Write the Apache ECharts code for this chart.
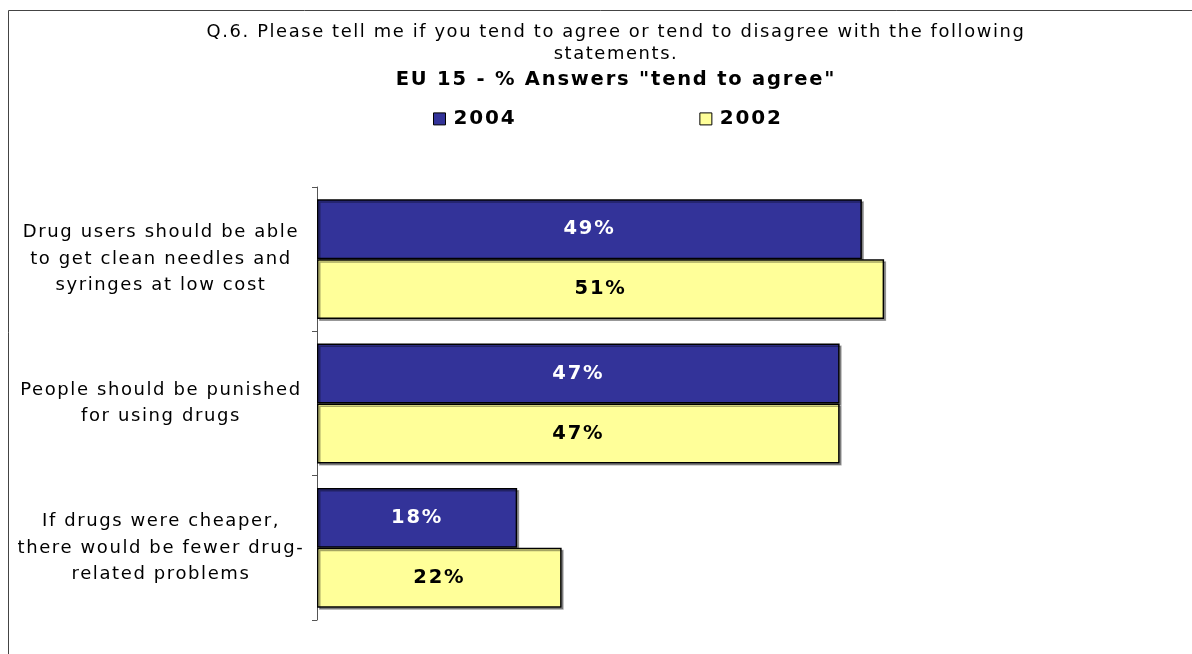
<!DOCTYPE html>
<html><head><meta charset="utf-8">
<script src="https://cdn.jsdelivr.net/npm/echarts@6/dist/echarts.min.js"></script>
<style>html,body{margin:0;padding:0;background:#fff}#c{width:1192px;height:654px}</style>
</head><body><div id="c"></div>
<script>
const categories = [
  "Drug users should be able\nto get clean needles and\nsyringes at low cost",
  "People should be punished\nfor using drugs",
  "If drugs were cheaper,\nthere would be fewer drug-\nrelated problems"
];
const seriesNames = ["2004", "2002"];
const values2004 = [49, 47, 18];
const values2002 = [51, 47, 22];
const titleLines = [
  "Q.6. Please tell me if you tend to agree or tend to disagree with the following\nstatements.",
  'EU 15 - % Answers "tend to agree"'
];

// Wide, Verdana-like tracking for all chart text
(function () {
  const p = CanvasRenderingContext2D.prototype;
  const ft = p.fillText, mt = p.measureText;
  const ls = (ctx) => { ctx.letterSpacing = /bold/.test(ctx.font) ? '1.8px' : '1.6px'; };
  p.fillText = function () { ls(this); return ft.apply(this, arguments); };
  p.measureText = function () { ls(this); return mt.apply(this, arguments); };
})();

const chart = echarts.init(document.getElementById('c'));
const font = '"DejaVu Sans", Verdana, sans-serif';
const mkSeries = (name, data, color, labelColor) => ({
  name, type: 'bar', data,
  barCategoryGap: '17%', barGap: '0%',
  itemStyle: { color, borderColor: '#000', borderWidth: 1.5,
    shadowColor: 'rgba(0,0,0,0.35)', shadowOffsetX: 2, shadowOffsetY: 2, shadowBlur: 0 },
  label: { show: true, position: 'inside', formatter: '{c}%', color: labelColor,
    fontFamily: font, fontWeight: 'bold', fontSize: 19.5 },
  animation: false
});
chart.setOption({
  animation: false,
  graphic: [{ type: 'rect', shape: { x: 8.5, y: 10.5, width: 1200, height: 700 },
    style: { fill: 'none', stroke: '#444', lineWidth: 1 }, z: -1 }],
  title: [{
    text: titleLines[0],
    left: 611, top: 16, textAlign: 'center',
    textStyle: { fontFamily: font, fontSize: 17.9, fontWeight: 'normal', color: '#000', lineHeight: 22, align: 'center' }
  }, {
    text: titleLines[1],
    left: 611, top: 64, textAlign: 'center',
    textStyle: { fontFamily: font, fontSize: 19.5, fontWeight: 'bold', color: '#000' }
  }],
  legend: {
    top: 108, left: 433, padding: 0, itemGap: 183, itemWidth: 12, itemHeight: 12,
    icon: 'rect',
    textStyle: { fontFamily: font, fontSize: 20, fontWeight: 'bold', color: '#000', padding: [0, 0, 0, 3] },
    itemStyle: { borderColor: '#000', borderWidth: 1 },
    data: seriesNames
  },
  grid: { left: 317, top: 187, height: 433, right: 96.6, containLabel: false },
  xAxis: { type: 'value', min: 0, max: 70, show: false },
  yAxis: {
    type: 'category', data: categories, inverse: true,
    axisLine: { lineStyle: { color: '#555', width: 1 } },
    axisTick: { show: true, length: 5, lineStyle: { color: '#555' } },
    axisLabel: { fontFamily: font, fontSize: 18, color: '#000', lineHeight: 26.5, align: 'center', margin: 156 }
  },
  series: [
    mkSeries(seriesNames[0], values2004, '#333399', '#fff'),
    mkSeries(seriesNames[1], values2002, '#FFFF99', '#000')
  ]
});
</script></body></html>
